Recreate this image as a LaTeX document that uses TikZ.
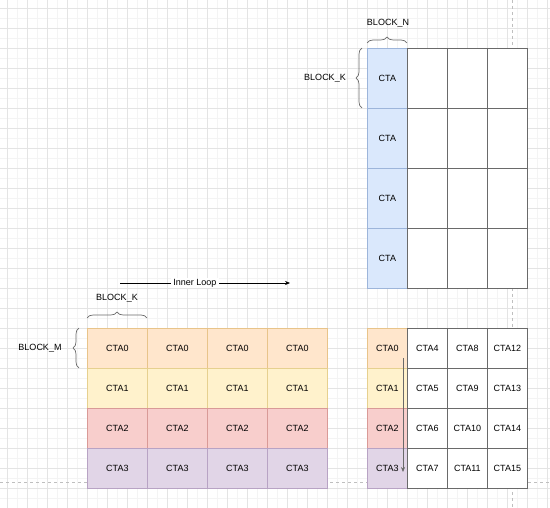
\documentclass[tikz,border=0pt]{standalone}
\usepackage{fontspec}
\setmainfont{Liberation Sans}
\usetikzlibrary{arrows.meta,decorations.pathreplacing}
\definecolor{orf}{HTML}{FFE6CC}\definecolor{ors}{HTML}{E8C48A}
\definecolor{yef}{HTML}{FFF2CC}\definecolor{yes}{HTML}{E6D08F}
\definecolor{ref}{HTML}{F8CECC}\definecolor{res}{HTML}{D99A97}
\definecolor{puf}{HTML}{E1D5E7}\definecolor{pus}{HTML}{B8A3C4}
\definecolor{blf}{HTML}{DAE8FC}\definecolor{bls}{HTML}{9DB5DA}
\definecolor{gridmin}{HTML}{F4F4F4}\definecolor{gridmaj}{HTML}{E4E4E4}
\definecolor{cellline}{HTML}{6A6A6A}
\tikzset{
  cell/.style={draw=cellline, fill=white, line width=0.8pt, inner sep=0pt, anchor=north west, font=\fontsize{9}{10}\selectfont},
  wide/.style={cell, minimum width=60pt, minimum height=40pt},
  sq/.style={cell, minimum width=40pt, minimum height=40pt},
  tall/.style={cell, minimum width=40pt, minimum height=60pt},
  orc/.style={fill=orf, draw=ors},
  yec/.style={fill=yef, draw=yes},
  rec/.style={fill=ref, draw=res},
  puc/.style={fill=puf, draw=pus},
  blc/.style={fill=blf, draw=bls},
  lbl/.style={font=\fontsize{9}{10}\selectfont, inner sep=1pt},
  brc/.style={decorate, decoration={brace, amplitude=6pt}, draw=cellline, line width=0.7pt},
}
\begin{document}
\begin{tikzpicture}[x=1pt, y=-1pt]
\useasboundingbox (0,0) rectangle (550,508);
% grid
\foreach \x in {-3,7,...,550} \draw[gridmin, line width=0.6pt] (\x,0) -- (\x,508);
\foreach \y in {-2,8,...,508} \draw[gridmin, line width=0.6pt] (0,\y) -- (550,\y);
\foreach \x in {7,27,...,550} \draw[gridmaj, line width=0.6pt] (\x,0) -- (\x,508);
\foreach \y in {8,28,...,508} \draw[gridmaj, line width=0.6pt] (0,\y) -- (550,\y);
\draw[gray!50, dashed, line width=0.6pt] (0,482) -- (550,482);
\draw[gray!50, dashed, line width=0.6pt] (512,0) -- (512,508);

% top matrix
\foreach \r in {0,1,2,3} {
  \node[tall, blc] (t\r c0) at (367,48+60*\r) {CTA};
  \foreach \c in {1,2,3} \node[tall] (t\r c\c) at (367+40*\c,48+60*\r) {};
}
\draw[brc] (367,43) -- (407,43);
\node[lbl] (bn) at (388,23) {BLOCK\_N};
\draw[brc] (362,108) -- (362,48);
\node[lbl] (bk1) at (325,78) {BLOCK\_K};

% bottom left matrix
\foreach \r/\s in {0/orc,1/yec,2/rec,3/puc} {
  \foreach \c in {0,1,2,3} \node[wide, \s] (l\r c\c) at (87+60*\c,328+40*\r) {CTA\r};
}
\draw[brc] (87,318) -- (147,318);
\node[lbl] (bk2) at (117,298) {BLOCK\_K};
\draw[brc] (79,368) -- (79,328);
\node[lbl] (bm) at (40,348) {BLOCK\_M};
\coordinate (il1) at (120,283);
\coordinate (il2) at (290,283);
\draw[-{Stealth[length=5pt,width=4pt]}, line width=0.6pt] (il1) -- node[pos=0.44, fill=white, lbl, inner xsep=2.5pt] {Inner Loop} (il2);

% bottom right matrix
\foreach \r/\s in {0/orc,1/yec,2/rec,3/puc} {
  \node[sq, \s] (r\r c0) at (367,328+40*\r) {CTA\r};
}
\foreach \r in {0,1,2,3} \foreach \c in {1,2,3} {
  \pgfmathtruncatemacro{\n}{4*\c+\r}
  \node[sq] (r\r c\c) at (367+40*\c,328+40*\r) {CTA\n};
}
\coordinate (va1) at (403,358);
\coordinate (va2) at (403,472);
\draw[-{Stealth[length=5pt,width=4pt]}, line width=0.6pt, cellline] (va1) -- (va2);
\end{tikzpicture}
\end{document}
